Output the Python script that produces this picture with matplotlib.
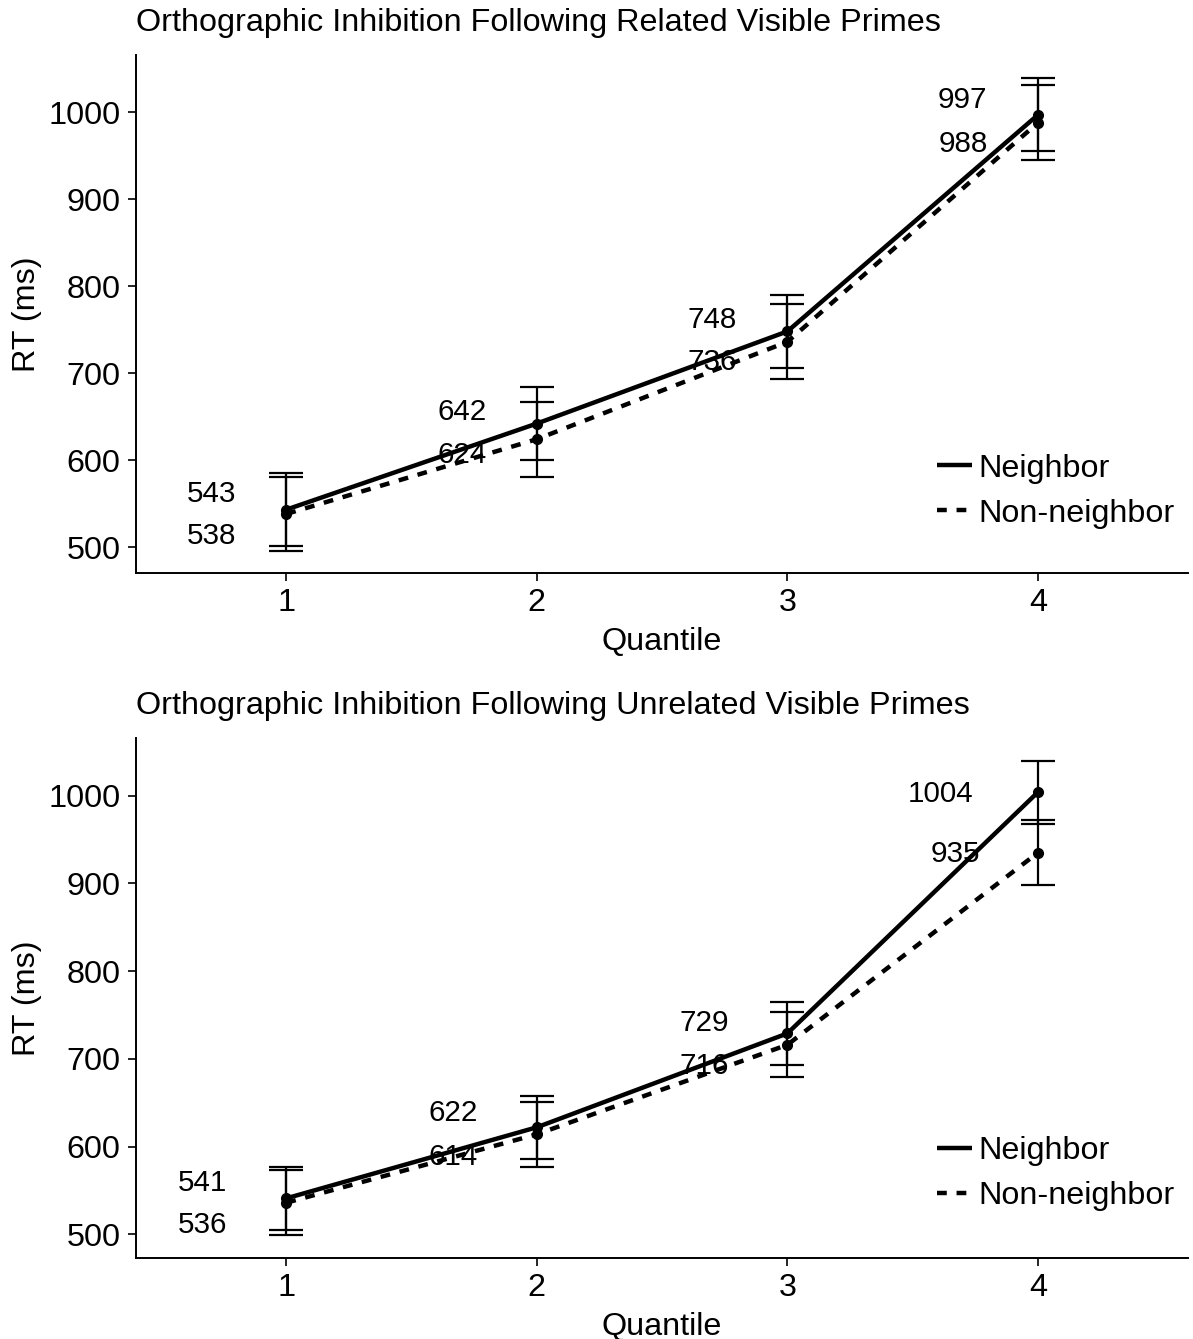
import matplotlib.pyplot as plt
import numpy as np

plt.rcParams['font.family'] = ['Liberation Sans', 'DejaVu Sans']

quantiles = [1, 2, 3, 4]

# Related visible primes
rel_neighbor = [543, 642, 748, 997]
rel_neighbor_se = [42, 42, 42, 42]
rel_nonneighbor = [538, 624, 736, 988]
rel_nonneighbor_se = [43, 43, 43, 43]

# Unrelated visible primes
unrel_neighbor = [541, 622, 729, 1004]
unrel_neighbor_se = [36, 36, 36, 36]
unrel_nonneighbor = [536, 614, 716, 935]
unrel_nonneighbor_se = [37, 37, 37, 37]

titles = ["Orthographic Inhibition Following Related Visible Primes",
          "Orthographic Inhibition Following Unrelated Visible Primes"]

# label nudges (x in quantile units, y in ms)
nudges = [
    {"nx": [-0.30, -0.30, -0.30, -0.30], "ny": [18, 13, 13, 17],
     "nnx": [-0.30, -0.30, -0.30, -0.30], "nny": [-25, -18, -23, -24]},
    {"nx": [-0.335, -0.333, -0.333, -0.39], "ny": [18, 16, 12, -2],
     "nnx": [-0.335, -0.333, -0.333, -0.33], "nny": [-25, -26, -24, -2]},
]

FS = 23.3
LFS = 21.3


def draw_panel(ax, neigh, neigh_se, nonneigh, nonneigh_se, title, nudge, ylim):
    x = np.array(quantiles)
    ax.errorbar(x, neigh, yerr=neigh_se, fmt='none', ecolor='black',
                elinewidth=1.6, capsize=12, capthick=1.6, zorder=2)
    ax.errorbar(x, nonneigh, yerr=nonneigh_se, fmt='none', ecolor='black',
                elinewidth=1.6, capsize=12, capthick=1.6, zorder=2)
    ax.plot(x, neigh, color='black', lw=3.2, solid_capstyle='butt',
            label='Neighbor', zorder=3)
    ax.plot(x, nonneigh, color='black', lw=3.2, linestyle=(0, (2.2, 2.2)),
            label='Non-neighbor', zorder=3)
    ax.plot(x, neigh, 'o', color='black', ms=7, zorder=4)
    ax.plot(x, nonneigh, 'o', color='black', ms=7, zorder=4)

    for i, q in enumerate(quantiles):
        ax.text(q + nudge["nx"][i], neigh[i] + nudge["ny"][i], str(neigh[i]),
                ha='center', va='center', fontsize=LFS)
        ax.text(q + nudge["nnx"][i], nonneigh[i] + nudge["nny"][i], str(nonneigh[i]),
                ha='center', va='center', fontsize=LFS)

    ax.set_xlim(0.4, 4.6)
    ax.set_ylim(*ylim)
    ax.set_xticks(quantiles)
    ax.set_yticks([500, 600, 700, 800, 900, 1000])
    ax.tick_params(labelsize=FS, length=6, width=1.2, direction='out', colors='black')
    ax.tick_params(axis='x', pad=5)
    ax.tick_params(axis='y', pad=5)
    for s in ['top', 'right']:
        ax.spines[s].set_visible(False)
    for s in ['left', 'bottom']:
        ax.spines[s].set_linewidth(1.4)
    ax.set_xlabel('Quantile', fontsize=FS, labelpad=6)
    ax.set_ylabel('RT (ms)', fontsize=FS, labelpad=5)
    ax.set_title(title, fontsize=FS, loc='left', x=0.0, pad=17)
    return ax


fig = plt.figure(figsize=(11.93, 13.39), dpi=100)
ax1 = fig.add_axes([0.114, 0.572, 0.882, 0.387])
ax2 = fig.add_axes([0.114, 0.0605, 0.882, 0.3885])

draw_panel(ax1, rel_neighbor, rel_neighbor_se, rel_nonneighbor, rel_nonneighbor_se,
           titles[0], nudges[0], (470, 1066))
draw_panel(ax2, unrel_neighbor, unrel_neighbor_se, unrel_nonneighbor, unrel_nonneighbor_se,
           titles[1], nudges[1], (473, 1066))

for ax, yc in [(ax1, 0.158), (ax2, 0.162)]:
    ax.legend(loc='center left', bbox_to_anchor=(0.761, yc), frameon=False,
              fontsize=FS, handlelength=1.1, handletextpad=0.2,
              borderpad=0, borderaxespad=0, labelspacing=0.46)

fig.savefig('out.png', dpi=100)
